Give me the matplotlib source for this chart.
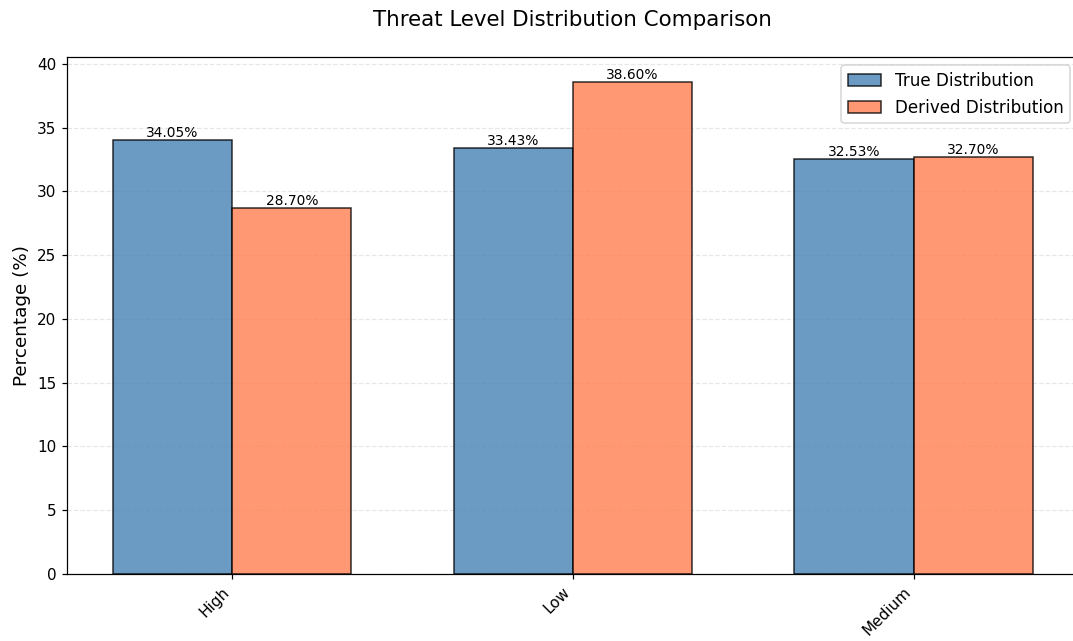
import numpy as np
import matplotlib.pyplot as plt

categories = ['High', 'Low', 'Medium']
true_dist = [34.05, 33.43, 32.53]
derived_dist = [28.70, 38.60, 32.70]

fig = plt.figure(figsize=(1073/110, 641/110), dpi=110)
ax = fig.add_axes([0.0624, 0.1045, 0.943, 0.8066])

x = np.arange(len(categories))
width = 0.35

bars1 = ax.bar(x - width/2, true_dist, width, label='True Distribution',
               color='steelblue', alpha=0.8, edgecolor='black', linewidth=1)
bars2 = ax.bar(x + width/2, derived_dist, width, label='Derived Distribution',
               color='coral', alpha=0.8, edgecolor='black', linewidth=1)

for bars in (bars1, bars2):
    for b in bars:
        h = b.get_height()
        ax.text(b.get_x() + b.get_width()/2, h, f'{h:.2f}%',
                ha='center', va='bottom', fontsize=9)

ax.set_ylabel('Percentage (%)', fontsize=12)
ax.set_title('Threat Level Distribution Comparison', fontsize=14, pad=20)
ax.set_xticks(x)
ax.set_xticklabels(categories, rotation=45, ha='right')
ax.legend(fontsize=11)
ax.grid(axis='y', linestyle='--', alpha=0.3)
ax.set_axisbelow(True)

plt.savefig('out.png', dpi=110)
